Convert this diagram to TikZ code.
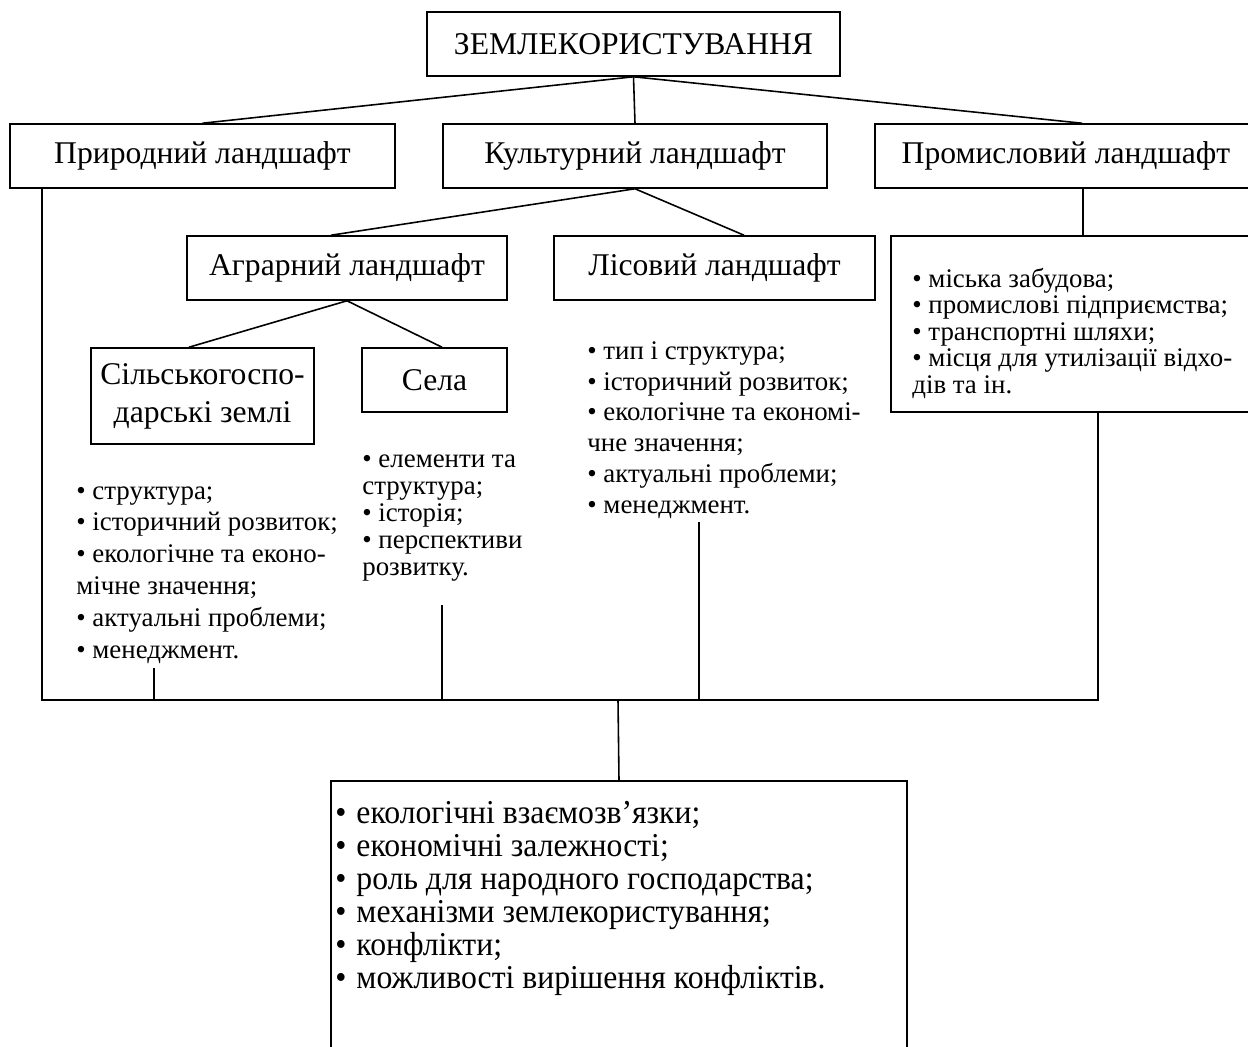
\documentclass[tikz,border=0pt]{standalone}
\usepackage{fontspec}
\setmainfont{Liberation Serif}
\newfontfamily\tallfont{Liberation Serif}[FakeStretch=0.95]
\usetikzlibrary{positioning}

\tikzset{
  lbox/.style={draw, line width=0.9pt, inner sep=0pt, minimum height=1.28cm, font=\fontsize{18}{21.6}\selectfont},
  blist/.style={anchor=north west, align=left, inner sep=0pt, font=\fontsize{15.3}{18.2}\selectfont},
  link/.style={line width=0.9pt}
}

\begin{document}
\begin{tikzpicture}[x=0.02cm, y=-0.02cm]
\useasboundingbox (0,0) rectangle (1248,1047);
% Top levels
\node[lbox, minimum width=8.26cm] (zem) at (633.5,44) {ЗЕМЛЕКОРИСТУВАННЯ};
\node[lbox, minimum width=7.7cm] (pryr) at (202.5,156) {Природний ландшафт};
\node[lbox, minimum width=7.68cm] (kult) at (635,156) {Культурний ландшафт};
\node[lbox, minimum width=7.64cm] (prom) at (1066,156) {Промисловий ландшафт};
\node[lbox, minimum width=6.4cm] (agr) at (347,268) {Аграрний ландшафт};
\node[lbox, minimum width=6.42cm] (lis) at (714.5,268) {Лісовий ландшафт};
\node[lbox, minimum width=4.46cm, minimum height=1.92cm, align=center] (silsk) at (202.5,396) {Сільськогоспо-\\дарські землі};
\node[lbox, minimum width=2.9cm] (sela) at (434.5,380) {Села};
% Lists
\node[lbox, minimum width=7.68cm, minimum height=3.52cm] (prlist) at (1083,324) {};
\node[blist, font=\fontsize{15.3}{15}\selectfont] (prtext) at (912,268) {• міська забудова;\\
• промислові підприємства;\\
• транспортні шляхи;\\
• місця для утилізації відхо-\\
дів та ін.};
\node[blist] (silist) at (76,486) {• структура;\\
• історичний розвиток;\\
• екологічне та еконо-\\
мічне значення;\\
• актуальні проблеми;\\
• менеджмент.};
\node[blist, font=\fontsize{15.3}{15.4}\selectfont] (selist) at (362,454) {• елементи та\\
структура;\\
• історія;\\
• перспективи\\
розвитку.};
\node[blist, font=\fontsize{15.3}{17.6}\selectfont] (lislist) at (587,341) {• тип і структура;\\
• історичний розвиток;\\
• екологічне та економі-\\
чне значення;\\
• актуальні проблеми;\\
• менеджмент.};
% Bottom box
\node[draw, line width=0.9pt, minimum width=11.52cm, minimum height=6cm] (gen) at (619,931) {};
\node[blist, font=\tallfont\fontsize{19}{18.8}\selectfont] (genlist) at (335,801) {•\hspace{0.3em}екологічні взаємозв’язки;\\
•\hspace{0.3em}економічні залежності;\\
•\hspace{0.3em}роль для народного господарства;\\
•\hspace{0.3em}механізми землекористування;\\
•\hspace{0.3em}конфлікти;\\
•\hspace{0.3em}можливості вирішення конфліктів.};
% Connectors
\draw[link] (zem.south) -- (pryr.north);
\draw[link] (zem.south) -- (kult.north);
\draw[link] (zem.south) -- ([xshift=0.32cm]prom.north);
\draw[link] ([xshift=0.34cm]prom.south) -- (prlist.north);
\draw[link] (kult.south) -- ([xshift=-0.32cm]agr.north);
\draw[link] (kult.south) -- ([xshift=0.59cm]lis.north);
\draw[link] (agr.south) -- ([xshift=-0.27cm]silsk.north);
\draw[link] (agr.south) -- ([xshift=0.15cm]sela.north);
% Bus
\coordinate (bus) at (618,700);
\coordinate (sistub) at (154,668);
\coordinate (sestub) at (442,605);
\coordinate (lisstub) at (699,522);
\draw[link] ([xshift=0.66cm]pryr.south west) |- (bus) -| ([xshift=0.3cm]prlist.south);
\draw[link] (sistub) -- (sistub |- bus);
\draw[link] (sestub) -- (sestub |- bus);
\draw[link] (lisstub) -- (lisstub |- bus);
\draw[link] (bus) -- (gen.north);
\end{tikzpicture}
\end{document}
